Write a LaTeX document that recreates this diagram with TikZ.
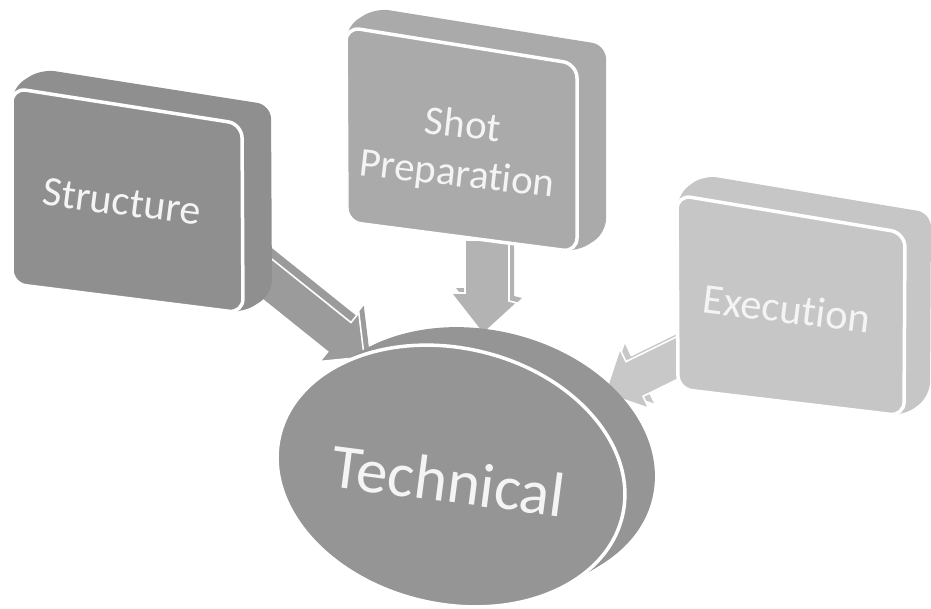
\documentclass[tikz,border=0pt]{standalone}
\usepackage{fontspec}
\setmainfont{Carlito}[Ligatures={NoCommon}]
\definecolor{structfill}{HTML}{8F8F8F}
\definecolor{shotfill}{HTML}{AAAAAA}
\definecolor{execfill}{HTML}{C6C6C6}
\definecolor{techfill}{HTML}{959595}
\definecolor{structarrow}{HTML}{9B9B9B}
\definecolor{shotarrow}{HTML}{B3B3B3}
\definecolor{execarrow}{HTML}{C8C8C8}
\definecolor{labeltext}{HTML}{F4F4F4}
\begin{document}
\begin{tikzpicture}[x=1pt,y={(0pt,-1pt)},
  body/.style={rounded corners=14pt},
  face/.style={rounded corners=14pt, draw=white, line width=3.5pt},
  arrowbody/.style={line join=miter},
  arrowface/.style={draw=white, line width=1.6pt, line join=miter},
  boxlabel/.style={text=labeltext, font=\fontsize{41}{49}\selectfont, align=center, inner sep=0pt}]
\useasboundingbox (0,0) rectangle (931,608);

% ---- block arrows (side faces first, then front faces) ----
% Structure -> Technical
\fill[structarrow, arrowbody, shift={(5,-7)}]
  (257.4,247.5) -- (351,322.5) -- (358.8,312.8) -- (364.2,357.1)
  -- (319.8,361.5) -- (327.6,351.8) -- (234,276.8) -- cycle;
\filldraw[fill=structarrow, arrowface]
  (257.4,247.5) -- (351,322.5) -- (358.8,312.8) -- (364.2,357.1)
  -- (319.8,361.5) -- (327.6,351.8) -- (234,276.8) -- cycle;
% Shot Preparation -> Technical
\fill[shotarrow, arrowbody, shift={(5,-5)}]
  (465,240) -- (465,293) -- (451,293) -- (483,334)
  -- (517,303) -- (509,301) -- (509,240) -- cycle;
\filldraw[fill=shotarrow, arrowface]
  (465,240) -- (465,293) -- (451,293) -- (483,334)
  -- (517,303) -- (509,301) -- (509,240) -- cycle;
% Execution -> Technical
\fill[execarrow, arrowbody, shift={(5,-5)}]
  (688,331.2) -- (626,361.6) -- (619.8,349) -- (604.9,393.4)
  -- (648.9,408.3) -- (643,396.3) -- (705,365.9) -- cycle;
\filldraw[fill=execarrow, arrowface]
  (688,331.2) -- (626,361.6) -- (619.8,349) -- (604.9,393.4)
  -- (648.9,408.3) -- (643,396.3) -- (705,365.9) -- cycle;

% ---- Structure box ----
\fill[structfill, body] (12,88) -- (41,69) -- (271,105) -- (272,294)
  -- (243,313) -- (12,284) -- cycle;
\filldraw[fill=structfill, face] (12,88) -- (242,124) -- (243,313) -- (12,284) -- cycle;
\node[boxlabel, anchor=base, rotate=-7.3, font=\fontsize{42}{49}\selectfont] (structure) at (120,215) {Structure};

% ---- Shot Preparation box ----
\fill[shotfill, body] (346,27) -- (375,8) -- (606,45) -- (606,233)
  -- (577,252) -- (347,222) -- cycle;
\filldraw[fill=shotfill, face] (346,27) -- (577,64) -- (577,252) -- (347,222) -- cycle;
\node[boxlabel, anchor=center, rotate=-6.5] (shot) at (460,151) {Shot\\Preparation};

% ---- Execution box ----
\fill[execfill, body] (677,195) -- (703,175) -- (931,213) -- (930,396)
  -- (904,416) -- (678,389) -- cycle;
\filldraw[fill=execfill, face] (677,195) -- (905,233) -- (904,416) -- (678,389) -- cycle;
\node[boxlabel, anchor=base, rotate=-7, font=\fontsize{42.5}{49}\selectfont] (execution) at (785,323) {Execution};

% ---- Technical disk: swept side, then front face ----
\foreach \k in {0,...,15}
  \fill[techfill, shift={(2*\k,-1.2*\k)}, rotate around={-13:(451,476)}]
    (451,476) ellipse [x radius=176, y radius=128];
\filldraw[fill=techfill, draw=white, line width=3.5pt, rotate around={-13:(451,476)}]
  (451,476) ellipse [x radius=176, y radius=128];
\node[boxlabel, anchor=base, rotate=-7.4, font=\fontsize{63}{72}\selectfont] (technical) at (446,502) {Technical};
\end{tikzpicture}
\end{document}
